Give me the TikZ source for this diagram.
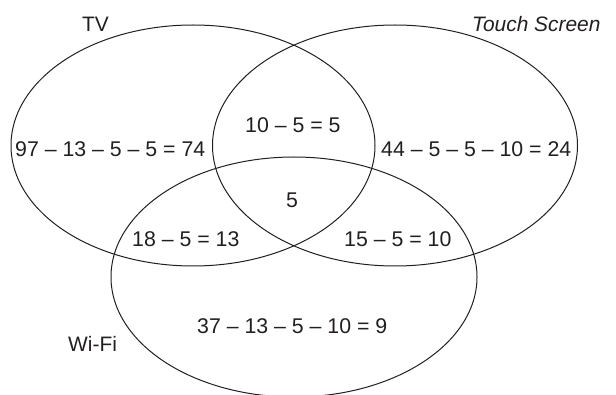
\documentclass[tikz,border=0pt]{standalone}
\usepackage{fontspec}
\setmainfont{Liberation Sans}
\definecolor{inkgray}{RGB}{35,31,32}

\begin{document}
\begin{tikzpicture}[x=1pt,y=-1pt,
    setline/.style={inkgray, line width=1pt},
    region/.style={inkgray, inner sep=0pt, anchor=base west, font=\fontsize{21.3}{24}\selectfont},
    setname/.style={region, font=\fontsize{20.9}{24}\selectfont}]
  \useasboundingbox (0,0) rectangle (616,395);
  \clip (0,0) rectangle (616,395);

  % the three sets
  \draw[setline] (193,145.5) ellipse (182 and 120.5);
  \draw[setline] (395,145.5) ellipse (182.5 and 120.5);
  \draw[setline] (294,277) ellipse (183 and 120);

  % set names
  \node[setname] (tv) at (82,32) {TV};
  \node[setname, font=\fontsize{20.9}{24}\selectfont\itshape] (touch) at (472,32) {Touch Screen};
  \node[setname] (wifi) at (68,352) {Wi-Fi};

  % counts
  \node[region] (onlytv) at (15,157) {97 -- 13 -- 5 -- 5 = 74};
  \node[region] (tvtouch) at (245,133) {10 -- 5 = 5};
  \node[region] (onlytouch) at (381,157) {44 -- 5 -- 5 -- 10 = 24};
  \node[region] (all) at (286,208) {5};
  \node[region] (tvwifi) at (132,247) {18 -- 5 = 13};
  \node[region] (touchwifi) at (344,247) {15 -- 5 = 10};
  \node[region] (onlywifi) at (197,334) {37 -- 13 -- 5 -- 10 = 9};
\end{tikzpicture}
\end{document}
